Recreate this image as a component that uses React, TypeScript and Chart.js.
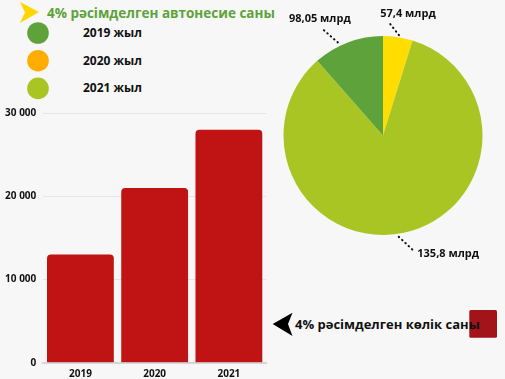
import React, { useEffect, useRef } from "react";
import { Chart, registerables } from "chart.js";

Chart.register(...registerables);

const barCategories = ["2019", "2020", "2021"];
const barValues = [13000, 21000, 28000];
const yTicks = [0, 10000, 20000, 30000];

const pieLegendLabels = ["2019 жыл", "2020 жыл", "2021 жыл"];
const pieLegendColors = ["#5fa13b", "#ffad00", "#a8c523"];
// slice shares (clockwise from top)
const pieShares = [4.8, 83.7, 11.5];
const pieColors = ["#ffdd00", "#a8c523", "#5ea23c"];
const pieLabels = ["57,4 млрд", "135,8 млрд", "98,05 млрд"];

const FONT = "'Open Sans', sans-serif";

const LEADERS = [
  { x1: 1, y1: -2, x2: -10, y2: -16, tx: 10, ty: -23, align: "center" },
  { x1: -5, y1: 4, x2: 11, y2: 19, tx: 13.5, ty: 21.5, align: "left" },
  { x1: -10, y1: 0, x2: -26, y2: -14, tx: -28, ty: -24, align: "center" },
];

const pieLabelPlugin = {
  id: "pieLabels",
  afterDatasetsDraw(chart: any) {
    const meta = chart.getDatasetMeta(0);
    const ctx = chart.ctx;
    meta.data.forEach((arc: any, i: number) => {
      const p = arc.getProps(["x", "y", "startAngle", "endAngle", "outerRadius"], true);
      const mid = (p.startAngle + p.endAngle) / 2;
      const ax = p.x + Math.cos(mid) * p.outerRadius;
      const ay = p.y + Math.sin(mid) * p.outerRadius;
      const s = LEADERS[i];
      ctx.save();
      ctx.strokeStyle = "#111";
      ctx.lineWidth = 2;
      ctx.lineCap = "round";
      ctx.setLineDash([0.5, 4]);
      ctx.beginPath();
      ctx.moveTo(ax + s.x1, ay + s.y1);
      ctx.lineTo(ax + s.x2, ay + s.y2);
      ctx.stroke();
      ctx.setLineDash([]);
      ctx.fillStyle = "#111";
      ctx.font = `bold 11px ${FONT}`;
      ctx.textAlign = s.align as CanvasTextAlign;
      ctx.textBaseline = "middle";
      ctx.fillText(pieLabels[i], ax + s.tx, ay + s.ty);
      ctx.restore();
    });
  },
};

export default function App() {
  const barRef = useRef<HTMLCanvasElement>(null);
  const pieRef = useRef<HTMLCanvasElement>(null);

  useEffect(() => {
    const bar = new Chart(barRef.current!, {
      type: "bar",
      data: {
        labels: barCategories,
        datasets: [
          {
            data: barValues,
            backgroundColor: "#c01313",
            borderRadius: { topLeft: 4, topRight: 4, bottomLeft: 0, bottomRight: 0 },
            borderSkipped: "bottom",
            barPercentage: 0.9,
            categoryPercentage: 1,
          },
        ],
      },
      options: {
        responsive: false,
        animation: false,
        layout: { padding: { left: 0, right: 14, top: 12.7, bottom: 0 } },
        plugins: { legend: { display: false }, tooltip: { enabled: false } },
        scales: {
          x: {
            grid: { display: false, drawTicks: false },
            border: { display: true, color: "#d6d6d6", width: 2 },
            ticks: { color: "#111", font: { family: FONT, size: 10, weight: "bold" }, padding: 5 },
            afterFit: (s: any) => {
              s.height = 16.3;
            },
          },
          y: {
            min: 0,
            max: 30000,
            afterBuildTicks: (s: any) => {
              s.ticks = yTicks.map((v) => ({ value: v }));
            },
            grid: { color: "#e6e6e6", drawTicks: false },
            border: { display: false },
            ticks: {
              color: "#111",
              font: { family: FONT, size: 10, weight: "bold" },
              padding: 7,
              callback: (v: any) => String(v).replace(/\B(?=(\d{3})+(?!\d))/g, " "),
            },
            afterFit: (s: any) => {
              s.width = 43.3;
            },
          },
        },
      },
    });

    const pie = new Chart(pieRef.current!, {
      type: "pie",
      data: {
        labels: pieLabels,
        datasets: [{ data: pieShares, backgroundColor: pieColors, borderWidth: 0 }],
      },
      options: {
        responsive: false,
        animation: false,
        layout: { padding: { left: 20.5, right: 22.5, top: 36, bottom: 35 } },
        plugins: { legend: { display: false }, tooltip: { enabled: false } },
      },
      plugins: [pieLabelPlugin],
    });

    return () => {
      bar.destroy();
      pie.destroy();
    };
  }, []);

  return (
    <div
      style={{
        position: "fixed",
        left: 0,
        top: 0,
        width: 505,
        height: 379,
        background: "#f7f7f7",
        fontFamily: FONT,
        overflow: "hidden",
      }}
    >
      <svg width={505} height={379} style={{ position: "absolute", left: 0, top: 0 }}>
        <polygon points="20,2 39,12 20,23 25,12.5" fill="#ffd600" />
        <polygon points="272.7,324 292.5,312.7 288,324 292.5,336" fill="#000" />
        <rect x={469.3} y={310} width={27.7} height={27.7} rx={1.5} fill="#a21419" />
        {pieLegendColors.map((c, i) => (
          <circle key={i} cx={38} cy={33 + i * 27.7} r={10.8} fill={c} />
        ))}
      </svg>
      <div
        style={{
          position: "absolute",
          left: 47,
          top: 2,
          fontSize: 13.5,
          fontWeight: 700,
          color: "#5da33a",
          whiteSpace: "nowrap",
          lineHeight: "22px",
        }}
      >
        4% рәсімделген автонесие саны
      </div>
      {pieLegendLabels.map((t, i) => (
        <div
          key={t}
          style={{
            position: "absolute",
            left: 83,
            top: 33 + i * 27.7 - 9,
            fontSize: 12,
            fontWeight: 700,
            color: "#111",
            lineHeight: "18px",
            whiteSpace: "nowrap",
          }}
        >
          {t}
        </div>
      ))}
      <div
        style={{
          position: "absolute",
          left: 295,
          top: 315,
          fontSize: 13,
          fontWeight: 700,
          color: "#111",
          lineHeight: "18px",
          whiteSpace: "nowrap",
        }}
      >
        4% рәсімделген көлік саны
      </div>
      <canvas ref={barRef} width={280} height={279} style={{ position: "absolute", left: 0, top: 100 }} />
      <canvas ref={pieRef} width={242} height={270} style={{ position: "absolute", left: 263, top: 0 }} />
    </div>
  );
}
